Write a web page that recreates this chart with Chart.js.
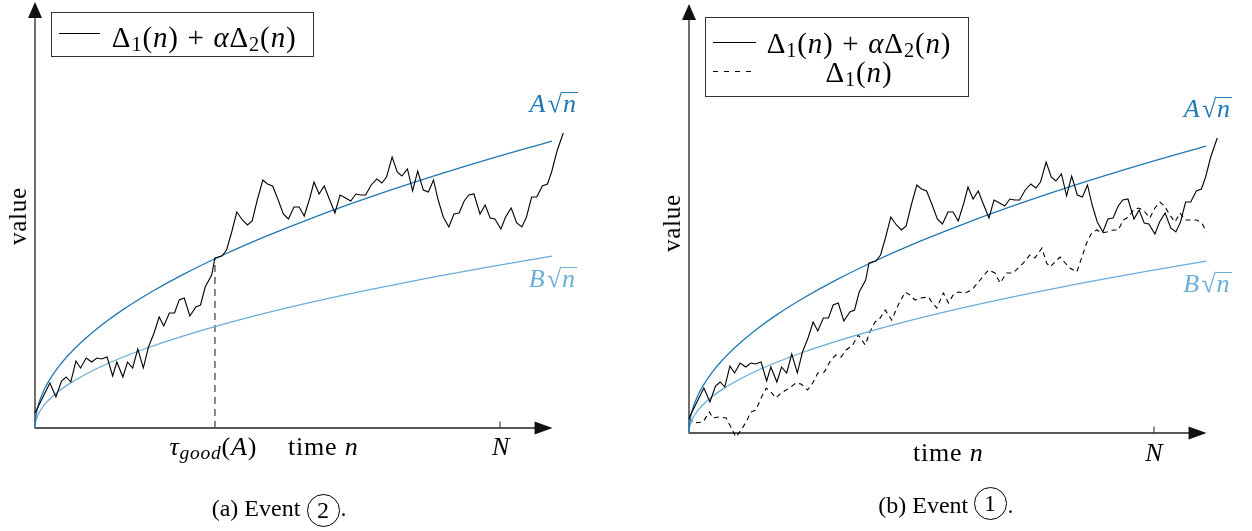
<!DOCTYPE html>
<html>
<head>
<meta charset="utf-8">
<script src="https://cdn.jsdelivr.net/npm/chart.js@4.4.1/dist/chart.umd.min.js"></script>
<style>
html,body{margin:0;padding:0;background:#fff;}
body{width:1252px;height:531px;position:relative;overflow:hidden;font-family:"Liberation Serif","Times New Roman",serif;color:#000;}
canvas{position:absolute;top:0;}
.lbl{position:absolute;white-space:nowrap;line-height:1.2;font-family:"Liberation Serif",serif;}
.m{letter-spacing:0.03em;}
.bl{display:inline-block;width:0;height:0;vertical-align:baseline;}
.sb{font-size:0.7em;vertical-align:-0.22em;}
.op{margin:0 0.3em;}
.rt{margin-left:0.06em;}
.vin{display:inline-block;line-height:0.8em;border-top:1.3px solid currentColor;padding:0.02em 0.06em 0 0.04em;margin-left:-0.04em;}
.box{position:absolute;border:1.2px solid #333;box-sizing:border-box;}
.sw{position:absolute;height:0;border-top:1.2px solid #000;}
.dsw{position:absolute;height:1.2px;background:repeating-linear-gradient(to right,#000 0 5px,transparent 5px 11px);}
.circ{position:absolute;border:1.2px solid #000;border-radius:50%;box-sizing:border-box;}
</style>
</head>
<body>
<canvas id="left" width="626" height="531" style="left:0;width:626px;height:531px"></canvas>
<canvas id="right" width="626" height="531" style="left:626px;width:626px;height:531px"></canvas>
<script>
// ---------- data ----------
// solid walk  Δ1(n) + αΔ2(n)  (same path in both panels)
const walkTime = [
  0, 3.2, 4.5, 5.7, 6.7, 7.7, 8.8, 9.8, 11.0, 12.2,
  13.3, 14.3, 15.5, 16.7, 17.6, 18.9, 19.9, 21.0, 22.1, 23.3,
  24.4, 25.6, 26.7, 27.7, 28.9, 30.0, 31.0, 32.1, 33.3, 34.6,
  35.6, 36.6, 38.0, 38.7, 40.2, 41.2, 42.3, 43.4, 44.6, 45.7,
  46.7, 47.8, 49.0, 50.0, 51.1, 52.3, 53.4, 54.5, 55.7, 56.8,
  57.9, 59.1, 60.0, 61.1, 62.2, 63.3, 64.5, 65.6, 66.8, 67.9,
  69.0, 70.0, 71.1, 72.3, 73.5, 74.6, 75.6, 76.8, 77.9, 78.9,
  80.1, 81.2, 82.3, 83.5, 84.6, 85.7, 86.7, 87.8, 89.0, 90.1,
  91.2, 92.3, 93.3, 94.4, 95.7, 96.8, 97.9, 98.9, 100.2, 101.2,
  102.4, 103.6, 104.7, 105.7, 106.8, 107.9, 109.1, 110.2, 111.1, 112.2,
  113.6
];
const walkValue = [
  1.5, 4.5, 3.1, 4.7, 5.1, 4.6, 6.7, 6.0, 7.0, 6.6,
  7.0, 6.9, 7.1, 5.2, 6.6, 5.1, 6.6, 6.0, 7.9, 6.0,
  8.1, 9.5, 11.1, 10.2, 11.5, 11.5, 12.8, 13.0, 11.2, 12.1,
  12.3, 14.1, 15.3, 17.0, 17.2, 17.8, 19.6, 21.6, 20.8, 20.3,
  20.7, 22.8, 24.8, 24.4, 24.2, 22.8, 21.4, 20.9, 22.1, 22.1,
  21.2, 23.0, 24.6, 23.4, 24.2, 22.9, 21.5, 23.3, 23.0, 22.7,
  23.4, 23.3, 23.3, 24.3, 24.9, 24.5, 25.1, 27.1, 25.6, 25.2,
  25.9, 23.7, 25.7, 23.8, 23.6, 24.8, 22.8, 21.1, 20.1, 21.4,
  21.5, 22.7, 23.3, 23.4, 21.4, 22.3, 21.0, 20.9, 19.9, 21.1,
  22.0, 20.5, 20.1, 21.1, 23.1, 23.1, 24.2, 24.4, 25.6, 27.6,
  29.5
];
// dashed walk Δ1(n) (panel b)
const deltaOneTime = [
  0, 1.1, 3.0, 4.4, 5.1, 6.5, 8.0, 9.0, 10.1, 11.2,
  12.3, 13.3, 14.4, 15.5, 16.6, 17.6, 18.7, 19.8, 20.9, 21.9,
  23.0, 24.1, 25.5, 26.6, 27.7, 29.1, 30.5, 31.6, 32.7, 33.8,
  35.2, 36.4, 37.9, 38.9, 40.0, 41.1, 42.2, 43.6, 45.0, 46.5,
  47.5, 48.6, 49.7, 51.5, 52.2, 53.3, 54.7, 55.8, 56.8, 57.9,
  59.4, 60.8, 62.6, 64.4, 65.8, 66.9, 68.3, 69.7, 71.9, 73.3,
  74.4, 75.9, 76.9, 77.6, 78.7, 79.8, 80.9, 81.9, 83.4, 84.5,
  85.5, 86.6, 87.7, 88.8, 89.8, 91.3, 92.3, 93.4, 94.5, 95.6,
  96.6, 97.7, 99.1, 100.2, 101.3, 102.4, 103.4, 104.5, 105.6, 106.7,
  107.7, 109.2, 110.3, 111.3
];
const deltaOneValue = [
  1.5, 1.0, 1.1, 2.1, 1.5, 1.6, 1.5, 0.6, -0.4, 0.3,
  1.1, 2.1, 2.3, 3.5, 4.5, 4.1, 3.5, 4.0, 4.3, 4.6,
  5.0, 4.9, 4.3, 5.0, 6.0, 6.1, 7.3, 7.8, 7.6, 8.3,
  8.8, 9.8, 8.8, 10.1, 11.1, 11.5, 12.3, 11.3, 12.8, 14.1,
  13.8, 13.3, 13.5, 13.6, 13.1, 12.5, 14.0, 13.0, 13.8, 14.1,
  14.0, 14.3, 15.3, 16.3, 16.0, 15.0, 16.0, 16.0, 17.0, 17.8,
  17.5, 18.5, 17.0, 16.6, 17.1, 17.6, 17.0, 16.5, 16.1, 17.6,
  19.0, 20.0, 20.3, 20.0, 20.1, 20.3, 20.3, 21.3, 21.6, 22.3,
  22.5, 22.3, 21.5, 22.5, 23.1, 22.6, 21.8, 21.1, 22.0, 21.3,
  21.3, 21.3, 21.0, 20.1
];
// boundary curves A√n and B√n
const curveTime = [0, 0.02, 0.1, 0.5, 1, 2, 3, 5, 7, 10, 14, 19, 25, 32, 40, 50, 60, 72, 85, 98, 111.2];
const curveA = [0, 0.38, 0.86, 1.92, 2.72, 3.85, 4.71, 6.08, 7.20, 8.60, 10.18, 11.86, 13.60, 15.39, 17.20, 19.23, 21.07, 23.08, 25.08, 26.93, 28.68];
const curveB = [0, 0.23, 0.52, 1.15, 1.63, 2.31, 2.82, 3.64, 4.31, 5.15, 6.10, 7.10, 8.15, 9.22, 10.31, 11.53, 12.63, 13.83, 15.03, 16.14, 17.19];
// marks on the time axis
const tauGoodTime = 38.7;
const tauGoodValue = 16.95;
const horizonN = 100;
const xAxisEnd = 111.3;

// ---------- styles ----------
const COLOR_A = '#1f78b4';
const COLOR_B = '#6baed6';

function pts(xs, ys) { return xs.map((x, i) => ({x: x, y: ys[i]})); }

const axesPlugin = {
  id: 'axesArrows',
  beforeDatasetsDraw(chart, args, o) {
    const ctx = chart.ctx, xs = chart.scales.x, ys = chart.scales.y;
    const x0 = xs.getPixelForValue(0), y0 = ys.getPixelForValue(0);
    const xe = xs.getPixelForValue(o.xEnd), ye = ys.getPixelForValue(o.yEnd);
    ctx.save();
    ctx.strokeStyle = '#222'; ctx.fillStyle = '#111'; ctx.lineWidth = 1.3;
    ctx.beginPath();
    ctx.moveTo(x0, y0); ctx.lineTo(xe - 8, y0);
    ctx.moveTo(x0, y0 + 0.6); ctx.lineTo(x0, ye + 8);
    ctx.stroke();
    const xt = xs.getPixelForValue(o.tickAt);
    ctx.lineWidth = 1;
    ctx.beginPath(); ctx.moveTo(xt, y0); ctx.lineTo(xt, y0 - 6.5); ctx.stroke();
    ctx.beginPath(); ctx.moveTo(xe, y0); ctx.lineTo(xe - 18, y0 - 6.5); ctx.lineTo(xe - 18, y0 + 6.5); ctx.closePath(); ctx.fill();
    ctx.beginPath(); ctx.moveTo(x0, ye); ctx.lineTo(x0 - 7, ye + 16); ctx.lineTo(x0 + 7, ye + 16); ctx.closePath(); ctx.fill();
    ctx.restore();
  }
};

function makeChart(id, padding, yMax, yAxisEnd, extra) {
  const datasets = [
    {label: 'Δ1(n) + αΔ2(n)', data: pts(walkTime, walkValue), borderColor: '#000', borderWidth: 1.1, tension: 0},
    {label: 'A√n', data: pts(curveTime, curveA), borderColor: COLOR_A, borderWidth: 1.3, cubicInterpolationMode: 'monotone'},
    {label: 'B√n', data: pts(curveTime, curveB), borderColor: COLOR_B, borderWidth: 1.3, cubicInterpolationMode: 'monotone'}
  ].concat(extra);
  datasets.forEach(d => { d.pointRadius = 0; d.fill = false; d.clip = false; });
  return new Chart(document.getElementById(id), {
    type: 'line',
    data: {datasets: datasets},
    options: {
      responsive: false, animation: false, events: [],
      layout: {padding: padding},
      scales: {
        x: {type: 'linear', min: -2, max: 118, display: false},
        y: {type: 'linear', min: -2, max: yMax, display: false}
      },
      plugins: {
        legend: {display: false}, tooltip: {enabled: false},
        axesArrows: {xEnd: xAxisEnd, yEnd: yAxisEnd, tickAt: horizonN}
      }
    },
    plugins: [axesPlugin]
  });
}

makeChart('left', {left: 25.7, right: 42.3, top: 0, bottom: 83}, 42.8, 42.6, [
  {label: 'τgood(A)', data: [{x: tauGoodTime, y: 0}, {x: tauGoodTime, y: tauGoodValue}], borderColor: '#555', borderWidth: 1.4, borderDash: [7, 5], tension: 0}
]);
makeChart('right', {left: 53.7, right: 14.3, top: 0, bottom: 78}, 43.3, 42.9, [
  {label: 'Δ1(n)', data: pts(deltaOneTime, deltaOneValue), borderColor: '#000', borderWidth: 1.1, borderDash: [5, 4], tension: 0}
]);

// ---------- text ----------
function label(html, x, y, size, opt) {
  opt = opt || {};
  const d = document.createElement('div');
  d.className = 'lbl' + (opt.math ? ' m' : '');
  d.style.fontSize = size + 'px';
  if (opt.color) d.style.color = opt.color;
  d.innerHTML = '<span class="bl"></span>' + html;
  d.style.left = '0px'; d.style.top = '0px';
  document.body.appendChild(d);
  const r = d.getBoundingClientRect();
  const b = d.querySelector('.bl').getBoundingClientRect();
  const base = b.bottom - r.top;
  if (opt.rotate) {
    const ox = r.width / 2, oy = base;
    d.style.transformOrigin = ox + 'px ' + oy + 'px';
    d.style.left = (x - ox) + 'px';
    d.style.top = (y - oy) + 'px';
    d.style.transform = 'rotate(-90deg)';
    return d;
  }
  const left = opt.align === 'center' ? x - r.width / 2 : x;
  d.style.left = left + 'px';
  d.style.top = (y - base) + 'px';
  return d;
}
function box(x, y, w, h) {
  const d = document.createElement('div'); d.className = 'box';
  Object.assign(d.style, {left: x + 'px', top: y + 'px', width: w + 'px', height: h + 'px'});
  document.body.appendChild(d);
}
function sample(x1, x2, y, dashed) {
  const d = document.createElement('div'); d.className = dashed ? 'dsw' : 'sw';
  Object.assign(d.style, {left: x1 + 'px', top: (y - 0.6) + 'px', width: (x2 - x1) + 'px'});
  document.body.appendChild(d);
}
function circled(txt, cx, cy, dia, size) {
  const d = document.createElement('div'); d.className = 'circ';
  Object.assign(d.style, {left: (cx - dia / 2) + 'px', top: (cy - dia / 2) + 'px', width: dia + 'px', height: dia + 'px'});
  document.body.appendChild(d);
  label(txt, cx, cy + 0.33 * size, size, {align: 'center'});
}

const mSum = '<span>Δ</span><span class="sb">1</span>(<i>n</i>)<span class="op">+</span><i>α</i><span>Δ</span><span class="sb">2</span>(<i>n</i>)';
const mD1 = '<span>Δ</span><span class="sb">1</span>(<i>n</i>)';
const mA = '<i>A</i><span class="rt">√</span><span class="vin"><i>n</i></span>';
const mB = '<i>B</i><span class="rt">√</span><span class="vin"><i>n</i></span>';

function drawText() {
  // panel (a)
  box(50.7, 11.7, 263.6, 45);
  sample(59.3, 100, 33.3, false);
  label(mSum, 204.2, 46.7, 29, {align: 'center', math: true});
  label(mA, 553.9, 111.7, 26, {align: 'center', color: COLOR_A, math: true});
  label(mB, 553, 286.7, 26, {align: 'center', color: COLOR_B, math: true});
  label('<i>τ</i><span class="sb" style="font-size:0.75em"><i>good</i></span>(<i>A</i>)', 213.3, 455, 26, {align: 'center', math: true});
  label('time <i>n</i>', 323.3, 455, 26, {align: 'center', math: true});
  label('<i>N</i>', 500.7, 455, 26, {align: 'center'});
  label('value', 26, 216, 25, {rotate: true, math: true});
  label('(a) Event', 211.7, 515.5, 24);
  circled('2', 323, 510, 33, 24);
  label('.', 340.5, 515.5, 24);
  // panel (b)
  box(705, 16.7, 264.3, 80);
  sample(713.3, 756, 42.3, false);
  sample(713, 752, 71.7, true);
  label(mSum, 859, 53.3, 29, {align: 'center', math: true});
  label(mD1, 859, 81.7, 29, {align: 'center', math: true});
  label(mA, 1208, 116.7, 26, {align: 'center', color: COLOR_A, math: true});
  label(mB, 1207.5, 291.7, 26, {align: 'center', color: COLOR_B, math: true});
  label('time <i>n</i>', 948.3, 461, 26, {align: 'center', math: true});
  label('<i>N</i>', 1154, 461, 26, {align: 'center'});
  label('value', 680, 223, 25, {rotate: true, math: true});
  label('(b) Event', 878.3, 513, 24);
  circled('1', 990, 503.5, 33, 24);
  label('.', 1007.5, 513, 24);
}
if (document.fonts && document.fonts.ready) { document.fonts.ready.then(drawText); } else { drawText(); }
</script>
</body>
</html>
